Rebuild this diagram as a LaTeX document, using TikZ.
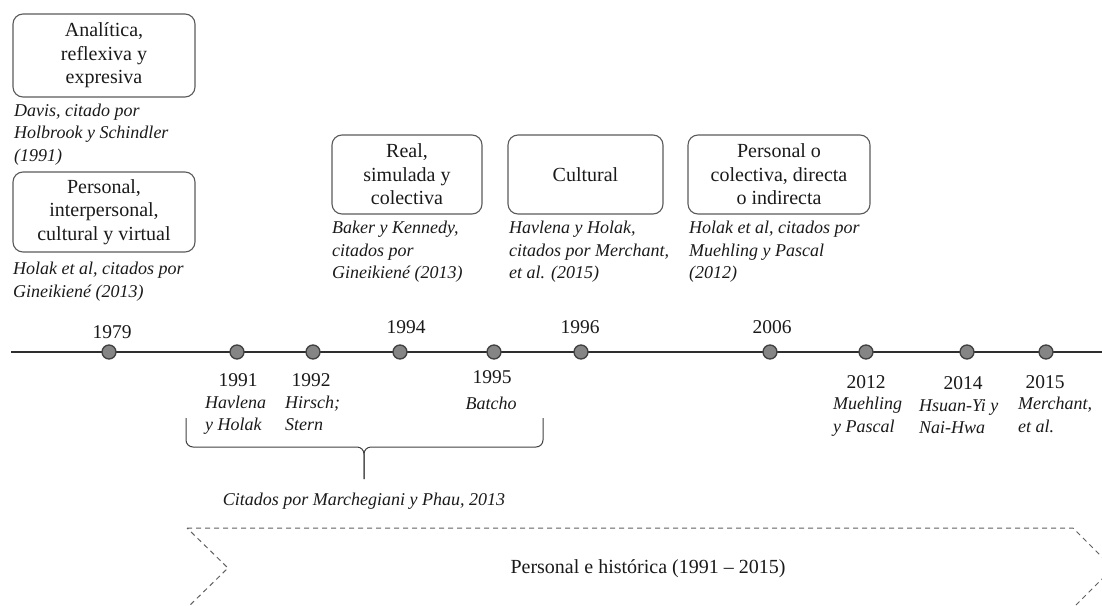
\documentclass[tikz,border=0pt]{standalone}
\usepackage{fontspec}
\setmainfont{Liberation Serif}
\usetikzlibrary{calc}

\definecolor{boxgray}{HTML}{5A5A5A}
\definecolor{linegray}{HTML}{2E2E2E}
\definecolor{dotfill}{HTML}{858585}
\definecolor{dotedge}{HTML}{404040}
\definecolor{dashgray}{HTML}{606060}
\definecolor{txt}{HTML}{1A1A1A}

\tikzset{
  conceptbox/.style={draw=boxgray, line width=1.1pt, rounded corners=10pt,
    align=center, inner sep=0pt, text=txt,
    font=\fontsize{20}{23.5}\selectfont},
  citeblock/.style={anchor=north west, inner sep=0pt, align=left, text=txt,
    font=\fontsize{18}{22.5}\selectfont\itshape},
  yearlabel/.style={inner sep=0pt, text=txt, font=\fontsize{19.5}{22}\selectfont},
  yeardot/.style={circle, fill=dotfill, draw=dotedge, line width=1.3pt,
    minimum size=14pt, inner sep=0pt},
  axis/.style={draw=linegray, line width=1.8pt},
  bracket/.style={draw=dotedge, line width=1pt, rounded corners=7pt},
  periodarrow/.style={draw=dashgray, line width=1pt, dash pattern=on 5pt off 4pt},
}

\begin{document}
\begin{tikzpicture}[x=1pt, y=-1pt]
  \useasboundingbox (0,0) rectangle (1102,605);
  \clip (0,0) rectangle (1102,605);

  % concept boxes and their sources
  \node[conceptbox, minimum width=182pt, minimum height=83pt] (b1) at (104,55.5)
    {Analítica,\\reflexiva y\\expresiva};
  \node[citeblock] (c1) at (14,103.5) {Davis, citado por\\Holbrook y Schindler\\(1991)};

  \node[conceptbox, minimum width=182pt, minimum height=80pt] (b2) at (104,212)
    {Personal,\\interpersonal,\\cultural y virtual};
  \node[citeblock] (c2) at (13,262) {Holak et al, citados por\\Gineikiené (2013)};

  \node[conceptbox, minimum width=150pt, minimum height=79pt] (b3) at (407,174.5)
    {Real,\\simulada y\\colectiva};
  \node[citeblock] (c3) at (332,221) {Baker y Kennedy,\\citados por\\Gineikiené (2013)};

  \node[conceptbox, minimum width=155pt, minimum height=79pt] (b4) at (585.5,174.5)
    {Cultural};
  \node[citeblock] (c4) at (509,221) {Havlena y Holak,\\citados por Merchant,\\et al. (2015)};

  \node[conceptbox, minimum width=182pt, minimum height=79pt] (b5) at (779,174.5)
    {Personal o\\colectiva, directa\\o indirecta};
  \node[citeblock] (c5) at (689,221) {Holak et al, citados por\\Muehling y Pascal\\(2012)};

  % time axis
  \coordinate (axisL) at (11,352);
  \coordinate (axisR) at (1102,352);
  \draw[axis] (axisL) -- (axisR);

  \foreach \name/\xx in {d1979/109, d1991/237, d1992/313, d1994/400, d1995/494,
                         d1996/581, d2006/770, d2012/866, d2014/967, d2015/1046}
    \node[yeardot] (\name) at (\xx,352) {};

  % years above the axis
  \node[yearlabel] (y1979) at (112,332) {1979};
  \node[yearlabel] (y1994) at (406,327) {1994};
  \node[yearlabel] (y1996) at (580,327) {1996};
  \node[yearlabel] (y2006) at (772,327) {2006};

  % years below the axis with their authors
  \node[yearlabel] (y1991) at (238,380) {1991};
  \node[citeblock] (a1991) at (205,395.5) {Havlena\\y Holak};
  \node[yearlabel] (y1992) at (311,380) {1992};
  \node[citeblock] (a1992) at (285,395.5) {Hirsch;\\Stern};
  \node[yearlabel] (y1995) at (492,377) {1995};
  \node[citeblock, anchor=north] (a1995) at (491,396.5) {Batcho};
  \node[yearlabel] (y2012) at (866,382) {2012};
  \node[citeblock] (a2012) at (833,397) {Muehling\\y Pascal};
  \node[yearlabel] (y2014) at (963,383) {2014};
  \node[citeblock] (a2014) at (919,399) {Hsuan-Yi y\\Nai-Hwa};
  \node[yearlabel] (y2015) at (1045,382) {2015};
  \node[citeblock] (a2015) at (1018,397) {Merchant,\\et al.};

  % brace grouping 1991--1995
  \coordinate (brL) at (186,418);
  \coordinate (brR) at (543,418);
  \coordinate (brM) at (364,447);
  \coordinate (brTip) at (364,479);
  \draw[bracket] (brL) -- (brL |- brM) -- (brM) -- (brTip);
  \draw[bracket] (brR) -- (brR |- brM) -- (brM) -- (brTip);
  \node[inner sep=0pt, text=txt, font=\fontsize{18}{22}\selectfont\itshape]
    (marc) at (364,501) {Citados por Marchegiani y Phau, 2013};

  % dashed chevron for the period
  \coordinate (chTL) at (187,528);
  \coordinate (chN)  at (228,568);
  \coordinate (chBL) at (187,608);
  \coordinate (chTR) at (1073,528);
  \coordinate (chTip) at (1113,568);
  \coordinate (chBR) at (1073,608);
  \draw[periodarrow] (chTL) -- (chTR) -- (chTip) -- (chBR) -- (chBL) -- (chN) -- cycle;
  \node[inner sep=0pt, text=txt, font=\fontsize{20}{23}\selectfont]
    (period) at (648,569) {Personal e histórica (1991 – 2015)};
\end{tikzpicture}
\end{document}
